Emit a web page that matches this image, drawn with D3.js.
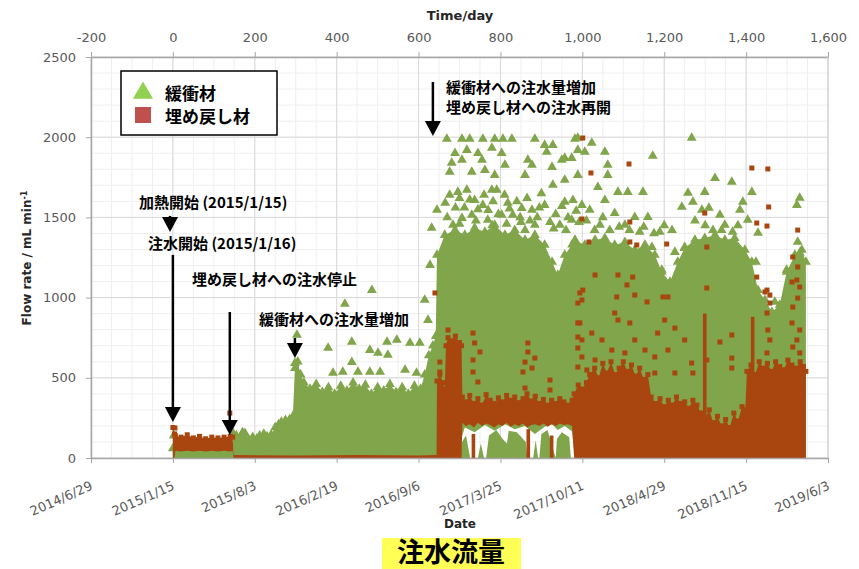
<!DOCTYPE html>
<html><head><meta charset="utf-8">
<script src="https://cdn.jsdelivr.net/npm/d3@7"></script>
<style>body{margin:0;background:#fff;} svg{display:block;}</style>
</head><body>
<svg id="c" width="859" height="569"></svg>
<script>
// ---------- data ----------
const dayTicks = [-200,0,200,400,600,800,1000,1200,1400,1600];
const flowTicks = [0,500,1000,1500,2000,2500];
const dateTicks = ["2014-06-29","2015-01-15","2015-08-03","2016-02-19","2016-09-06","2017-03-25","2017-10-11","2018-04-29","2018-11-15","2019-06-03"];
const seriesNames = ["緩衝材","埋め戻し材"];

// dense band of buffer (緩衝材) data: [day, low, high] (mL/min)
const bufferBand = [
 [0,0,60],[2,0,140],[5,0,70],[30,0,55],[60,0,60],[90,0,50],[120,0,55],[145,0,60],
 [148,0,150],[155,0,140],[164,0,128],[170,0,160],[176,0,155],[185,0,115],[195,0,130],[205,0,120],[212,0,140],[222,0,150],[230,0,135],[240,0,145],[250,0,190],[258,0,210],[265,0,225],[275,0,235],[285,0,240],[293,0,260],
 [298,0,560],[305,0,600],[312,0,520],[320,0,470],[335,0,430],[350,0,460],[365,0,410],[380,0,440],[395,0,400],[410,0,450],[425,0,420],[440,0,470],[455,0,430],[470,0,455],[485,0,400],[500,0,440],[515,0,420],[530,0,460],[545,0,410],[560,0,440],[575,0,400],[590,0,450],[605,0,430],[615,0,520],[625,0,640],[635,0,700],[642,0,760],
 [645,0,1266],[664,0,1390],[689,0,1421],[713,190,1390],[737,160,1434],[762,205,1409],[786,170,1453],[811,210,1390],[835,180,1421],[860,200,1359],[884,150,1390],[908,195,1328],[926,210,1222],[940,175,1141],[957,200,1266],[975,165,1330],
 [982,0,1359],[1006,0,1328],[1031,0,1359],[1055,0,1371],[1079,0,1328],[1104,0,1346],[1128,0,1297],[1153,0,1328],[1177,0,1266],[1194,0,1160],[1214,0,1097],[1233,0,1222],[1250,0,1309],[1275,0,1359],[1299,0,1371],[1324,0,1390],[1348,0,1359],[1372,0,1371],[1397,0,1297],[1414,0,1222],[1429,0,1047],[1446,0,985],[1463,0,910],[1482,0,954],[1499,0,1160],[1519,0,1266],[1536,0,1297],[1546,0,1222]
];
// low patches of buffer data under the backfill band: [day, high]
const bufferBase = [[700,0],[706,100],[716,140],[726,0],[745,0],[752,90],[760,0],[765,0],[772,140],[790,175],[805,120],[816,90],[820,170],[840,160],[862,100],[866,0],[880,0],[886,110],[892,0],[895,0],[900,150],[915,175],[928,60],[935,0],[938,120],[950,160],[968,130],[972,0]];
// scattered buffer points: [day, flow]
const bufferPoints = [
 [303,767],[298,592],[379,686],[437,723],[437,598],[481,673],[501,655],[523,723],[525,642],[547,736],[567,549],[579,717],[603,717],[391,530],[481,536],[415,536],[452,536],[506,536],[595,530],[486,1047],[420,960],[615,985],[628,1203],[632,1434],[645,1546],[623,860],
 [669,1989],[706,1989],[725,1989],[757,1989],[786,1989],[806,1989],[828,1989],[884,1989],[982,1989],
 [908,1951],[928,1951],[913,1908],[689,1901],[718,1920],[745,1901],[779,1933],[803,1901],[867,1858],[957,1870],[989,1920],
 [681,1839],[706,1858],[755,1858],[811,1827],[877,1827],[926,1814],[950,1858],[974,1870],
 [676,1783],[730,1783],[762,1795],[786,1764],[860,1764],[928,1702],[957,1733],[989,1764],[779,1671],
 [676,1640],[696,1658],[718,1671],[737,1608],[757,1577],[791,1671],[818,1590],[852,1558],[877,1546],[908,1577],[957,1596],[977,1608],[999,1577],
 [684,1453],[706,1496],[730,1515],[769,1484],[803,1515],[830,1515],[860,1421],[884,1453],[921,1471],[945,1453],[974,1484],
 [665,1590],[690,1560],[700,1620],[712,1560],[725,1610],[745,1550],[760,1640],[770,1545],[782,1600],[795,1520],[810,1640],[822,1555],[840,1600],[848,1500],[865,1620],[872,1480],[895,1560],[900,1650],[935,1520],[950,1570],[965,1500],[985,1540],[992,1470],
 [670,1500],[700,1460],[740,1480],[780,1450],[815,1460],[850,1470],[890,1500],[930,1430],[960,1420],
 [989,1995],[1023,1964],[1055,1908],[1172,1883],[1267,1995],[1006,1908],[1062,1827],[1062,1764],[1038,1689],[1087,1658],[1111,1658],[1148,1658],[1055,1608],[1160,1502],[1258,1652],[1270,1596],[1243,1565],[1292,1546],[1128,1502],[1079,1527],[1219,1421],[1250,1315],[1226,1284],[1170,1315],[1194,1172],[1018,1546],[1043,1453],[1104,1453],[1140,1409],[1067,1421],[1189,1409],
 [1010,1480],[1030,1420],[1050,1500],[1090,1440],[1115,1420],[1150,1440],[1175,1400],[1200,1450],[1275,1480],[1300,1450],[1340,1420],[1380,1450],
 [1324,1745],[1365,1721],[1299,1658],[1414,1658],[1392,1596],[1385,1546],[1309,1559],[1531,1621],[1524,1577],[1404,1484],[1429,1403],[1367,1409],[1319,1421],[1526,1347],[1531,1278],[1499,1172],[1507,1060],[1424,1222],[1494,910],[1470,973],[1458,860],[1336,1515],[1348,1453]
];

// dense band of backfill (埋め戻し材) data: [day, low, high]
const backfillBand = [
 [0,0,190],[4,0,150],[6,45,140],[20,40,130],[35,45,145],[50,40,125],[65,45,135],[80,40,120],[95,45,130],[110,40,125],[125,45,130],[140,40,135],[146,45,130],
 [148,0,18],[300,0,16],[450,0,18],[600,0,16],[644,0,18],
 [645,0,480],[652,0,520],[660,0,470],[664,0,430],[667,0,700],[672,0,750],[680,0,730],[690,0,760],[700,0,720],[705,0,700],
 [707,220,380],[715,200,350],[725,210,390],[735,190,340],[745,220,370],[755,200,330],[765,215,395],[775,205,360],[785,190,340],[795,210,375],[805,200,350],[815,220,390],[825,195,360],[835,210,380],[845,200,345],[855,215,370],[865,190,400],[875,205,355],[885,210,385],[895,200,340],[905,215,365],[915,195,330],[925,210,360],[935,200,340],[945,215,370],[955,205,350],[965,210,330],[975,200,360],
 [980,0,400],[990,0,455],[1000,0,430],[1010,0,470],[1018,0,520],[1030,0,560],[1040,0,500],[1050,0,590],[1060,0,530],[1070,0,600],[1080,0,520],[1090,0,560],[1100,0,600],[1110,0,540],[1120,0,580],[1130,0,510],[1140,0,560],[1150,0,490],[1160,0,520],
 [1168,0,380],[1180,0,340],[1190,0,370],[1200,0,320],[1210,0,360],[1220,0,330],[1230,0,380],[1240,0,340],[1250,0,350],[1260,0,310],[1270,0,360],[1280,0,330],
 [1290,0,280],[1300,0,250],[1310,0,300],[1320,0,220],[1330,0,260],[1340,0,200],[1350,0,240],[1360,0,190],[1370,0,280],[1380,0,230],[1390,0,320],[1398,0,300],
 [1402,0,540],[1412,0,580],[1422,0,520],[1432,0,600],[1442,0,560],[1452,0,590],[1462,0,540],[1472,0,600],[1482,0,570],[1492,0,550],[1502,0,610],[1512,0,580],[1522,0,560],[1532,0,600],[1540,0,570],[1546,0,540]
];
// narrow backfill columns: [day, low, high]
const backfillColumns = [[1299,0,900],[1416,0,880],[734,0,150],[868,0,180],[925,0,140]];
// scattered backfill points: [day, flow]
const backfillPoints = [
 [139,280],[5,187],
 [1001,1995],[1114,1833],[1021,1777],[1414,1808],[1453,1802],[1455,1565],[1426,1465],[1451,1446],[1526,1421],[1299,1527],[999,1490],[1016,1347],[1116,1471],[1116,1347],[1133,1328],[1206,1334],
 [1426,1128],[1451,1047],[1512,1097],[1526,997],[1304,1060],[640,1029],[1001,1047],[1031,1141],[1084,1004],[1123,1128],[1197,1004],[1087,1141],[1109,1079],[1128,1016],[1158,973],[1209,1004],
 [999,985],[989,842],[1079,904],[1116,842],[1087,860],[1201,860],[1226,810],[1023,779],[1184,779],[1250,736],[1048,736],[1072,673],[1128,736],[1153,673],[999,736],[1177,630],[1209,673],[1267,592],[1104,655],[1031,611],[1011,549],[1270,530],[1226,530],[1177,530],
 [672,798],[733,779],[737,717],[750,661],[733,611],[733,536],[745,474],[867,717],[867,661],[860,598],[884,623],[877,561],[855,536],[860,436],[921,486],[921,424],
 [994,1029],[989,966],[994,842],[989,754],[989,686],[999,630],[989,567],[652,598],[652,536],
 [1304,1315],[1446,1035],[1458,1016],[1458,966],[1514,1253],[1526,1191],[1524,1110],[1531,1066],[1514,941],[1451,904],[1453,798],[1458,736],[1531,798],[1512,842],[1514,692],[1531,655],[1365,767],[1336,723],[1365,623],[1365,561],[1304,611],[1451,655],[1524,736]
];

// ---------- layout ----------
const X0 = 91, X1 = 828, Y0 = 458, Y1 = 57;
const GREEN = "#80a54a", BROWN = "#a9450e";
const FONT = "'DejaVu Sans', sans-serif";
const JP = "'Noto Sans CJK JP', sans-serif";

const svg = d3.select("#c");
const x = d3.scaleLinear().domain([dayTicks[0], dayTicks[dayTicks.length-1]]).range([X0, X1]);
const parse = d3.utcParse("%Y-%m-%d");
const start = parse(dateTicks[0]);
const xt = d3.scaleUtc().domain([start, d3.utcDay.offset(start, dayTicks[dayTicks.length-1]-dayTicks[0])]).range([X0, X1]);
const y = d3.scaleLinear().domain([flowTicks[0], flowTicks[flowTicks.length-1]]).range([Y0, Y1]);

// grid
const grid = svg.append("g");
grid.selectAll(".vm").data(d3.range(-200, 1601, 50)).join("line")
  .attr("x1", d => x(d)).attr("x2", d => x(d)).attr("y1", Y1).attr("y2", Y0)
  .attr("stroke", "#efefef").attr("stroke-width", 1);
grid.selectAll(".hm").data(d3.range(0, 2501, 100)).join("line")
  .attr("x1", X0).attr("x2", X1).attr("y1", d => y(d)).attr("y2", d => y(d))
  .attr("stroke", "#efefef").attr("stroke-width", 1);
grid.selectAll(".vM").data(dayTicks).join("line")
  .attr("x1", d => x(d)).attr("x2", d => x(d)).attr("y1", Y1).attr("y2", Y0)
  .attr("stroke", "#d9d9d9").attr("stroke-width", 1);
grid.selectAll(".hM").data(flowTicks).join("line")
  .attr("x1", X0).attr("x2", X1).attr("y1", d => y(d)).attr("y2", d => y(d))
  .attr("stroke", "#d9d9d9").attr("stroke-width", 1);

// data
const area = d3.area().x(d => x(d[0])).y0(d => y(d[1])).y1(d => y(d[2]));
const tri = d3.symbol().type(d3.symbolTriangle).size(42);
const sq = d3.symbol().type(d3.symbolSquare).size(25);

const gB = svg.append("g");
gB.append("path").datum(bufferBand).attr("d", area).attr("fill", GREEN);
gB.append("path").datum(bufferBase).attr("d", d3.area().x(d => x(d[0])).y0(y(0)).y1(d => y(d[1]))).attr("fill", GREEN);
gB.selectAll(".et").data(bufferBand).join("path").attr("d", tri)
  .attr("transform", d => `translate(${x(d[0])},${y(d[2])})`).attr("fill", GREEN);
gB.selectAll(".pt").data(bufferPoints).join("path").attr("d", tri)
  .attr("transform", d => `translate(${x(d[0])},${y(d[1])})`).attr("fill", GREEN);

const gF = svg.append("g");
gF.append("path").datum(backfillBand).attr("d", area).attr("fill", BROWN);
gF.selectAll(".col").data(backfillColumns).join("rect")
  .attr("x", d => x(d[0]) - 1.8).attr("width", 3.6)
  .attr("y", d => y(d[2])).attr("height", d => y(d[1]) - y(d[2])).attr("fill", BROWN);
gF.selectAll(".es").data(backfillBand.filter(d => d[2] > 100)).join("path").attr("d", sq)
  .attr("transform", d => `translate(${x(d[0])},${y(d[2])})`).attr("fill", BROWN);
gF.selectAll(".ps").data(backfillPoints).join("path").attr("d", sq)
  .attr("transform", d => `translate(${x(d[0])},${y(d[1])})`).attr("fill", BROWN);

// axes
const fmt = d3.formatLocale({decimal: ".", thousands: ",", grouping: [3], currency: ["", ""], minus: "-"}).format(",");
function styleAxis(g) {
  g.select(".domain").attr("stroke", "#a6a6a6").attr("stroke-width", 1.5);
  g.selectAll(".tick line").attr("stroke", "#a6a6a6");
  g.selectAll("text").attr("font-family", FONT).attr("font-size", 13).attr("fill", "#595959");
}
svg.append("g").attr("transform", `translate(0,${Y1})`)
  .call(d3.axisTop(x).tickValues(dayTicks).tickFormat(fmt).tickSize(5).tickSizeOuter(0).tickPadding(10))
  .call(styleAxis);
svg.append("g").attr("transform", `translate(${X0},0)`)
  .call(d3.axisLeft(y).tickValues(flowTicks).tickFormat(d3.format("d")).tickSize(5).tickSizeOuter(0).tickPadding(10))
  .call(styleAxis);
const bx = svg.append("g").attr("transform", `translate(0,${Y0})`)
  .call(d3.axisBottom(xt).tickValues(dateTicks.map(parse)).tickFormat(d3.utcFormat("%Y/%-m/%-d")).tickSize(5).tickSizeOuter(0))
  .call(styleAxis);
bx.selectAll("text").attr("x", 0).attr("y", 0).attr("dy", 0).attr("text-anchor", "end")
  .attr("transform", "translate(2,31) rotate(-24)");
svg.append("line").attr("x1", X1).attr("x2", X1).attr("y1", Y1).attr("y2", Y0).attr("stroke", "#d0d0d0");

// axis titles
svg.append("text").attr("x", 460).attr("y", 20).attr("text-anchor", "middle")
  .attr("font-family", FONT).attr("font-weight", "bold").attr("font-size", 13).attr("fill", "#262626").text("Time/day");
svg.append("text").attr("x", 460).attr("y", 528).attr("text-anchor", "middle")
  .attr("font-family", FONT).attr("font-weight", "bold").attr("font-size", 12).attr("fill", "#262626").text("Date");
const yl = svg.append("text").attr("transform", "translate(31,258) rotate(-90)").attr("text-anchor", "middle")
  .attr("font-family", FONT).attr("font-weight", "bold").attr("font-size", 12).attr("fill", "#262626");
yl.append("tspan").text("Flow rate / mL min");
yl.append("tspan").attr("baseline-shift", "super").attr("font-size", 8).text("-1");

// legend
const lg = svg.append("g");
lg.append("rect").attr("x", 121).attr("y", 71).attr("width", 156).attr("height", 64)
  .attr("fill", "#fff").attr("stroke", "#000").attr("stroke-width", 1.5);
lg.append("path").attr("d", d3.symbol().type(d3.symbolTriangle).size(175)).attr("transform", "translate(143,93)").attr("fill", "#92d050");
lg.append("rect").attr("x", 135).attr("y", 107).attr("width", 16).attr("height", 16).attr("fill", "#c0504d");
lg.selectAll(".lt").data(seriesNames).join("text").attr("x", 165).attr("y", (d, i) => 100 + i * 23)
  .attr("font-family", JP).attr("font-weight", "bold").attr("font-size", 17).attr("fill", "#000").text(d => d);

// annotations
const notes = [
  {t: "緩衝材への注水量増加", x: 446, y: 93},
  {t: "埋め戻し材への注水再開", x: 446, y: 113},
  {t: "加熱開始 (2015/1/15)", x: 139, y: 208},
  {t: "注水開始 (2015/1/16)", x: 148, y: 249},
  {t: "埋め戻し材への注水停止", x: 192, y: 285},
  {t: "緩衝材への注水量増加", x: 259, y: 325}
];
svg.selectAll(".note").data(notes).join("text").attr("x", d => d.x).attr("y", d => d.y)
  .attr("font-family", JP).attr("font-weight", "bold").attr("font-size", 15).attr("fill", "#000").text(d => d.t);

// arrows: [day, flowFrom, flowTo]
const arrows = [[635, 2344, 2007], [-7, 1509, 1409], [0, 1266, 224], [139, 910, 143], [298, 748, 623]];
const ag = svg.append("g");
arrows.forEach(a => {
  const ax = x(a[0]), ya = y(a[1]), yb = y(a[2]);
  ag.append("line").attr("x1", ax).attr("x2", ax).attr("y1", ya).attr("y2", yb - 12)
    .attr("stroke", "#000").attr("stroke-width", 2.5);
  ag.append("path").attr("d", `M${ax-8},${yb-15}L${ax+8},${yb-15}L${ax},${yb}Z`).attr("fill", "#000");
});

// title
svg.append("rect").attr("x", 382).attr("y", 538).attr("width", 139).attr("height", 31).attr("fill", "#ffff55");
svg.append("text").attr("x", 451).attr("y", 562).attr("text-anchor", "middle")
  .attr("font-family", JP).attr("font-weight", "bold").attr("font-size", 27).attr("fill", "#000").text("注水流量");
</script>
</body></html>
